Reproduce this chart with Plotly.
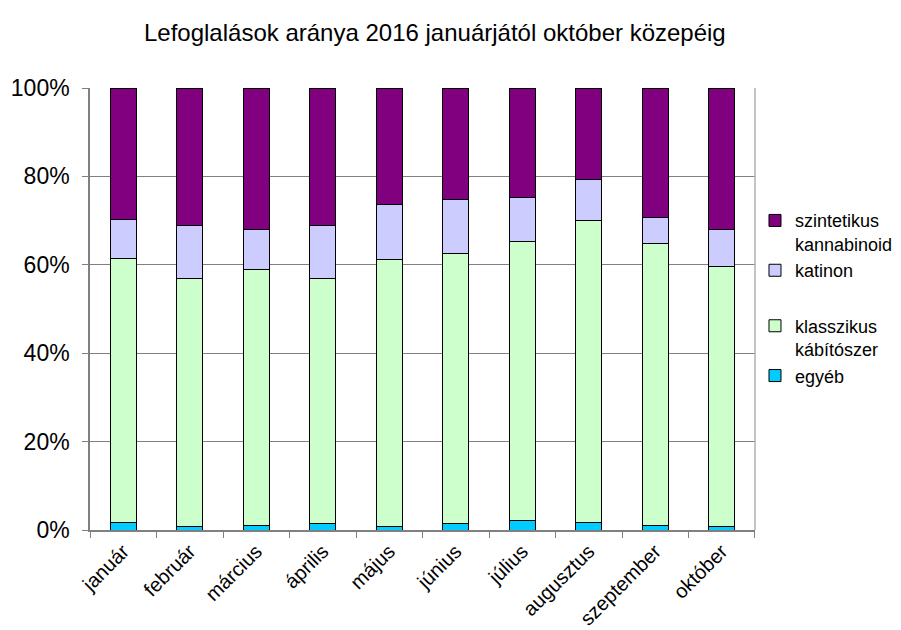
import plotly.graph_objects as go

months = ["január", "február", "március", "április", "május", "június",
          "július", "augusztus", "szeptember", "október"]
egyeb = [1.8, 0.8, 1.1, 1.4, 0.8, 1.4, 2.1, 1.6, 1.1, 0.8]
klasszikus = [59.7, 56.0, 57.9, 55.4, 60.3, 61.2, 63.1, 68.5, 63.7, 58.9]
katinon = [8.7, 12.2, 8.9, 12.2, 12.5, 12.1, 10.1, 9.1, 5.9, 8.2]
szintetikus = [29.8, 31.0, 32.1, 31.0, 26.4, 25.3, 24.7, 20.8, 29.3, 32.1]

series = [
    ("egyéb", egyeb, "#00CCFF", "legend2"),
    ("klasszikus<br>kábítószer", klasszikus, "#CCFFCC", "legend2"),
    ("katinon", katinon, "#CCCCFF", "legend"),
    ("szintetikus<br>kannabinoid", szintetikus, "#800080", "legend"),
]

fig = go.Figure()
for i, (name, vals, col, leg) in enumerate(series):
    fig.add_trace(go.Bar(
        x=months, y=vals, name=name, legendgroup="g%d" % i, legend=leg,
        marker=dict(color=col, line=dict(color="#000000", width=1)),
    ))

font = "Liberation Sans, Arial, sans-serif"
leg_common = dict(xref="container", yref="container",
                  xanchor="left", yanchor="top", traceorder="reversed",
                  font=dict(size=18, family=font), itemwidth=30,
                  tracegroupgap=8, valign="top", bgcolor="rgba(0,0,0,0)")
fig.update_layout(
    barmode="stack",
    barnorm="percent",
    bargap=0.61,
    width=893, height=622,
    paper_bgcolor="white", plot_bgcolor="white",
    margin=dict(l=82, r=146, t=80, b=100),
    title=dict(text="Lefoglalások aránya 2016 januárjától október közepéig",
               x=0.478, xanchor="center", y=0.961, yanchor="middle",
               font=dict(family=font, size=24, color="black")),
    font=dict(family=font, color="black"),
    legend=dict(x=0.8365, y=0.6877, **leg_common),
    legend2=dict(x=0.8365, y=0.5184, **leg_common),
    showlegend=True,
)
fig.update_yaxes(range=[0, 100], tickvals=[0, 20, 40, 60, 80, 100],
                 ticktext=["0%", "20%", "40%", "60%", "80%", "100%"],
                 showgrid=True, gridcolor="#808080", gridwidth=1,
                 showline=True, linecolor="#808080", linewidth=1.5,
                 ticks="outside", ticklen=6, tickcolor="#808080",
                 ticklabelstandoff=8,
                 tickfont=dict(size=23, family=font), zeroline=False,
                 automargin=False)
fig.update_xaxes(tickangle=-45, tickson="boundaries", ticks="outside", ticklen=6,
                 tickcolor="#808080", showline=True, linecolor="#808080", linewidth=1.5,
                 tickfont=dict(size=20, family=font), automargin=False)
fig.add_shape(type="line", xref="paper", yref="paper", x0=1, x1=1, y0=0, y1=1,
              line=dict(color="#b0b0b0", width=1.5))
fig.write_html("out.html")
